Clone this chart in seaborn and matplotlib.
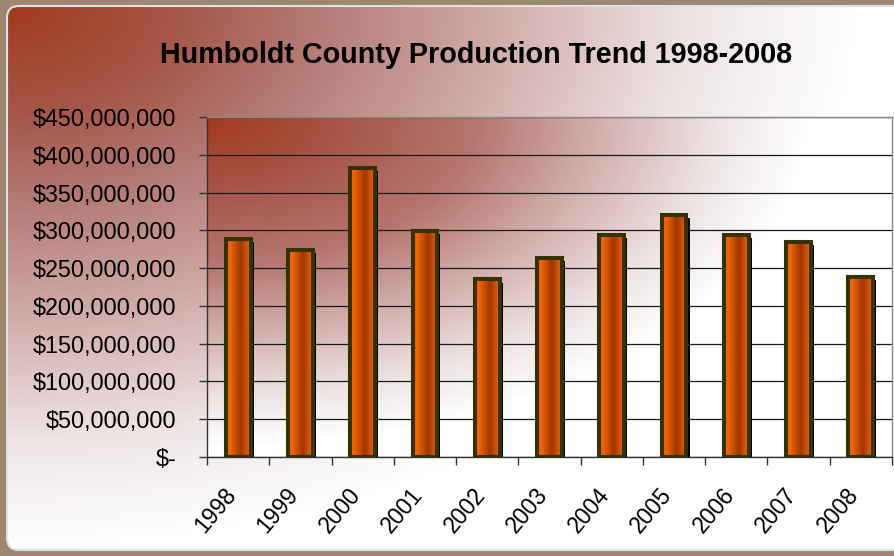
import numpy as np
import pandas as pd
import matplotlib
matplotlib.use("Agg")
import matplotlib.pyplot as plt
import matplotlib.patheffects as pe
import matplotlib.transforms as mtransforms
from matplotlib.patches import FancyBboxPatch, Rectangle
import seaborn as sns

# Data (values in $ millions)
years = ['1998', '1999', '2000', '2001', '2002', '2003',
         '2004', '2005', '2006', '2007', '2008']
production = [288, 274, 382, 299, 235, 263, 294, 320, 294, 284, 238]

y_ticks = [0, 50e6, 100e6, 150e6, 200e6, 250e6, 300e6, 350e6, 400e6, 450e6]
y_tick_labels = ['$-', '$50,000,000', '$100,000,000', '$150,000,000',
                 '$200,000,000', '$250,000,000', '$300,000,000',
                 '$350,000,000', '$400,000,000', '$450,000,000']

df = pd.DataFrame({'year': years, 'value': np.array(production) * 1e6})

sns.set_style('white')
plt.rcParams['font.family'] = ['Liberation Sans', 'DejaVu Sans']


def ramp(t, stops):
    pos = [s[0] for s in stops]
    chans = [np.interp(t, pos, [s[1][i] for s in stops]) for i in range(3)]
    return np.clip(np.stack(chans, axis=-1) / 255.0, 0, 1)


panel_stops = [(0.0, (160, 58, 30)), (0.2, (166, 86, 72)), (0.35, (178, 120, 115)),
               (0.55, (205, 165, 162)), (0.8, (238, 228, 228)), (1.0, (255, 255, 255))]
plot_stops = [(0.0, (162, 58, 28)), (0.2, (166, 82, 68)), (0.45, (182, 118, 112)),
              (0.65, (210, 175, 172)), (0.85, (238, 228, 228)), (1.0, (255, 255, 255))]
bar_stops = [(0.0, (232, 92, 0)), (0.15, (242, 102, 6)), (0.6, (160, 55, 0)),
             (0.85, (212, 84, 0)), (1.0, (236, 100, 6))]

W, H = 894, 556
fig = plt.figure(figsize=(W / 100, H / 100), dpi=100)

# Background: textured frame + rounded gradient panel
bg = fig.add_axes([0, 0, 1, 1])
bg.set_xlim(0, W)
bg.set_ylim(H, 0)
bg.axis('off')
bg.add_patch(Rectangle((0, 0), W, H, color='#9d8770', zorder=0))
yy, xx = np.mgrid[0:H, 0:W]
t_panel = np.sqrt(((xx - 7) / 850) ** 2 + ((yy - 6) / 540) ** 2)
panel = FancyBboxPatch((7, 6), 900, 544, boxstyle='round,pad=0,rounding_size=12',
                       facecolor='none', edgecolor='#dde2e6', linewidth=1.5, zorder=2)
bg.add_patch(panel)
im_panel = bg.imshow(ramp(t_panel, panel_stops), extent=(0, W, H, 0), zorder=1)
im_panel.set_clip_path(panel)

# Plot area
ax = fig.add_axes([207 / W, (H - 457) / H, 685 / W, 340 / H])
sns.barplot(data=df, x='year', y='value', width=0.4, color='#e06000', saturation=1,
            edgecolor='#333300', linewidth=2.9, ax=ax, zorder=3)

ph, pw = 340, 685
py, px = np.mgrid[0:ph, 0:pw]
t_plot = np.sqrt((px / 600) ** 2 + (py / 330) ** 2)
ax.imshow(ramp(t_plot, plot_stops), extent=(-0.5, 10.5, 0, 450e6),
          aspect='auto', zorder=0)

# Gradient fill, shadow and outline for each bar
grad = ramp(np.linspace(0, 1, 64), bar_stops)[np.newaxis, :, :]
for bar in list(ax.patches):
    x0, w, h = bar.get_x(), bar.get_width(), bar.get_height()
    bar.set_path_effects([pe.SimplePatchShadow(offset=(2.2, -2.2), shadow_rgbFace='black', alpha=1.0),
                          pe.Normal()])
    im = ax.imshow(grad, extent=(x0, x0 + w, 0, h), aspect='auto', zorder=3.1,
                   interpolation='bilinear')
    im.set_clip_path(bar)
    ax.add_patch(Rectangle((x0, 0), w, h, fill=False, edgecolor='#333300',
                           linewidth=2.9, zorder=3.2))

ax.set_xlim(-0.5, 10.5)
ax.set_ylim(0, 450e6)
ax.set_xlabel('')
ax.set_ylabel('')

ax.set_axisbelow(True)
ax.yaxis.grid(True, color='#1a1a1a', linewidth=0.9)
ax.xaxis.grid(False)

ax.set_yticks(y_ticks, y_tick_labels, fontsize=16.8)
ax.tick_params(axis='y', left=True, length=6, width=1, color='#333333', pad=16,
               labelcolor='black')
ax.set_xticks(range(len(years)), years, fontsize=16.5, rotation=50,
              ha='right', rotation_mode='anchor')
ax.set_xticks(np.arange(-0.5, len(years)), minor=True)
ax.tick_params(axis='x', which='major', bottom=True, length=0, pad=19, labelcolor='black')
ax.tick_params(axis='x', which='minor', bottom=True, length=6, width=1, color='#333333')

# nudge rotated year labels left, as in the original
shift = mtransforms.ScaledTranslation(-15 / 100, 0, fig.dpi_scale_trans)
for lab in ax.get_xticklabels():
    lab.set_transform(lab.get_transform() + shift)

for side, col in [('left', '#333333'), ('bottom', '#333333'),
                  ('top', '#888888'), ('right', '#888888')]:
    ax.spines[side].set_color(col)
    ax.spines[side].set_linewidth(1)

fig.text(476 / W, 1 - 55 / H, 'Humboldt County Production Trend 1998-2008',
         ha='center', va='center', fontsize=20.7, fontweight='bold', color='black')

fig.savefig('out.png', dpi=100)
